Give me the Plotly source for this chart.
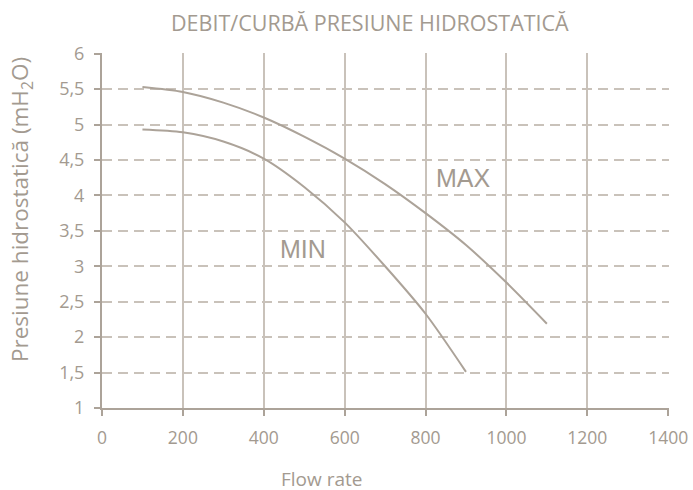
import plotly.graph_objects as go

flow_max = [100, 200, 300, 400, 500, 600, 700, 800, 900, 1000, 1100]
head_max = [5.53, 5.46, 5.31, 5.10, 4.83, 4.52, 4.16, 3.75, 3.30, 2.77, 2.19]
flow_min = [100, 200, 300, 400, 500, 600, 700, 800, 900]
head_min = [4.93, 4.89, 4.76, 4.52, 4.12, 3.62, 3.00, 2.33, 1.51]

x_ticks = [0, 200, 400, 600, 800, 1000, 1200, 1400]
y_ticks = [1, 1.5, 2, 2.5, 3, 3.5, 4, 4.5, 5, 5.5, 6]
y_tick_text = ["1", "1,5", "2", "2,5", "3", "3,5", "4", "4,5", "5", "5,5", "6"]

line_col = "#aca399"
text_col = "#a39a90"
grid_col = "#c9c2ba"
font_fam = "Open Sans, Lato, sans-serif"

W, H = 693, 490
L, R, T, B = 102, 24, 53, 82
pw = W - L - R
ph = H - T - B

fig = go.Figure()
fig.add_trace(go.Scatter(x=flow_max, y=head_max, mode="lines",
                         line=dict(color=line_col, width=2, shape="spline", smoothing=0.8), name="MAX"))
fig.add_trace(go.Scatter(x=flow_min, y=head_min, mode="lines",
                         line=dict(color=line_col, width=2, shape="spline", smoothing=0.8), name="MIN"))

fig.add_annotation(x=894, y=4.24, text="MAX", showarrow=False,
                   font=dict(family="Liberation Sans, Arial", size=25, color=text_col))
fig.add_annotation(x=496, y=3.25, text="MIN", showarrow=False,
                   font=dict(family="Liberation Sans, Arial", size=25, color=text_col))

fig.add_annotation(xref="paper", yref="paper", x=(370 - L) / pw, y=1, yshift=31, yanchor="middle",
                   text="DEBIT/CURBĂ PRESIUNE HIDROSTATICĂ", showarrow=False,
                   font=dict(family=font_fam, size=21.5, color=text_col))
fig.add_annotation(xref="paper", yref="paper", x=(321 - L) / pw, y=0, yshift=-71, yanchor="middle",
                   text="Flow rate", showarrow=False,
                   font=dict(family=font_fam, size=19, color=text_col))
fig.add_annotation(xref="paper", yref="paper", x=0, xshift=-(L - 21), y=(408 - 210) / ph,
                   xanchor="center", yanchor="middle",
                   text="Presiune hidrostatică (mH<sub>2</sub>O)", textangle=-90, showarrow=False,
                   font=dict(family=font_fam, size=22.5, color=text_col))

fig.update_layout(
    width=W, height=H,
    margin=dict(l=L, r=R, t=T, b=B, autoexpand=False),
    plot_bgcolor="white", paper_bgcolor="white",
    showlegend=False,
    font=dict(family=font_fam, color=text_col, size=18),
)
fig.update_xaxes(
    range=[0, 1402], tickvals=x_ticks, showgrid=True, gridcolor=grid_col, gridwidth=2,
    showline=True, linecolor=line_col, linewidth=2, ticks="outside", ticklen=6, tickcolor=line_col, tickwidth=2,
    ticklabelstandoff=7, zeroline=False, tickfont=dict(size=17.5, color=text_col), automargin=False,
)
fig.update_yaxes(
    range=[1, 6.01], tickvals=y_ticks, ticktext=y_tick_text, showgrid=True, gridcolor=grid_col, gridwidth=2,
    griddash="10px,6px",
    showline=True, linecolor=line_col, linewidth=2, ticks="outside", ticklen=6, tickcolor=line_col, tickwidth=2,
    ticklabelstandoff=6, zeroline=False, tickfont=dict(size=18, color=text_col), automargin=False,
)
fig.write_html("out.html", config={"displayModeBar": False},
               post_script="document.body.style.margin='0';document.body.style.overflow='hidden';")
